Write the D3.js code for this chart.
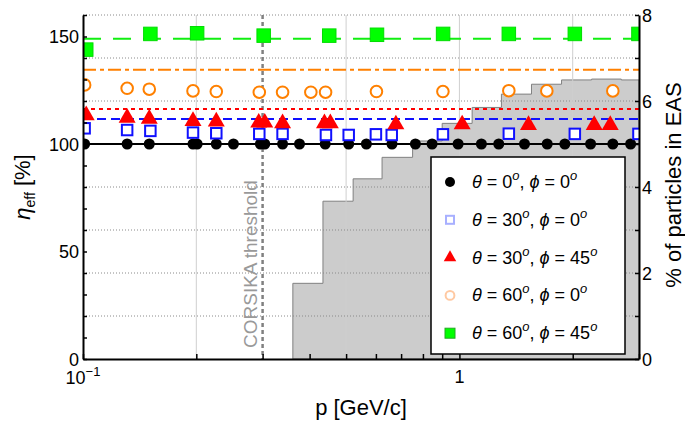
<!DOCTYPE html>
<html>
<head>
<meta charset="utf-8">
<script src="https://cdn.jsdelivr.net/npm/d3@7"></script>
<style>
  body { margin: 0; background: #fff; }
  svg { display: block; font-family: "Liberation Sans", Arial, Helvetica, sans-serif; }
</style>
</head>
<body>
<div id="chart"></div>
<script>
// histogram of particle momenta (% of particles in EAS), bin edges in GeV/c
const histEdges = [0.361, 0.434, 0.522, 0.623, 0.751, 0.900, 1.081, 1.293, 1.554, 1.868, 2.245, 2.692, 3.0];
const histPct   = [1.76, 3.67, 4.19, 4.69, 5.07, 5.48, 5.85, 6.16, 6.39, 6.49, 6.51, 6.49];

// theta = 0, phi = 0
const pT0P0   = [0.101, 0.131, 0.150, 0.196, 0.201, 0.226, 0.251, 0.296, 0.304, 0.339, 0.376, 0.440, 0.508,
                 0.566, 0.662, 0.764, 0.846, 0.992, 1.144, 1.272, 1.489, 1.711, 1.906, 2.231, 2.556, 2.850];
const effT0P0 = [100, 100, 100, 100, 100, 100, 100, 100, 100, 100, 100, 100, 100,
                 100, 100, 100, 100, 100, 100, 100, 100, 100, 100, 100, 100, 100];
// theta = 30, phi = 0
const pT30P0   = [0.101, 0.131, 0.151, 0.196, 0.226, 0.294, 0.339, 0.442, 0.508, 0.600, 0.661, 0.904, 1.353, 2.026, 2.99];
const effT30P0 = [107.3, 106.5, 106.1, 105.3, 105.0, 104.7, 104.7, 104.2, 104.2, 104.5, 104.2, 104.5, 104.8, 104.7, 104.7];
// theta = 30, phi = 45
const pT30P45   = [0.102, 0.131, 0.150, 0.196, 0.226, 0.293, 0.304, 0.339, 0.438, 0.454, 0.678, 1.017, 1.526, 2.281, 2.516];
const effT30P45 = [113.3, 112.2, 111.7, 110.7, 110.4, 109.9, 109.9, 109.6, 109.6, 109.6, 109.1, 109.1, 108.8, 108.8, 108.8];
// theta = 60, phi = 0
const pT60P0   = [0.101, 0.131, 0.150, 0.196, 0.226, 0.294, 0.339, 0.403, 0.441, 0.602, 0.904, 1.353, 1.707, 2.556];
const effT60P0 = [127.5, 125.9, 125.5, 124.7, 124.4, 124.1, 124.1, 124.1, 124.1, 124.4, 124.4, 124.8, 124.7, 124.7];
// theta = 60, phi = 45
const pT60P45   = [0.102, 0.151, 0.201, 0.302, 0.451, 0.604, 0.905, 1.353, 2.026, 2.99];
const effT60P45 = [143.9, 151.2, 151.5, 150.4, 150.4, 150.8, 151.2, 151.2, 151.2, 151.2];

// mean levels drawn as horizontal lines
const levels = [100, 111.6, 116.3, 134.5, 149.0];

const legendTheta = ["0", "30", "30", "60", "60"];
const legendPhi   = ["0", "0", "45", "0", "45"];

const xTicks = [0.1, 0.2, 0.3, 0.4, 0.5, 0.6, 0.7, 0.8, 0.9, 1, 2, 3];
const xGrid  = [0.2, 0.5, 1, 2];
const threshold = 0.3;

// layout
const W = 685, H = 423;
const margin = { top: 15, right: 46, bottom: 64, left: 83 };
const innerW = W - margin.left - margin.right;
const innerH = H - margin.top - margin.bottom;

const svg = d3.select("#chart").append("svg")
    .attr("width", W).attr("height", H);

svg.append("defs").append("clipPath").attr("id", "plotClip")
  .append("rect").attr("width", innerW).attr("height", innerH);

const g = svg.append("g").attr("transform", `translate(${margin.left},${margin.top})`);

const x = d3.scaleLog().domain([0.1, 3]).range([0, innerW]);
const y = d3.scaleLinear().domain([0, 160]).range([innerH, 0]);
const yR = d3.scaleLinear().domain([0, 8]).range([innerH, 0]);

// histogram (right axis)
const histData = histEdges.map((e, i) => ({ p: e, v: histPct[Math.min(i, histPct.length - 1)] }));
g.append("path")
  .datum(histData)
  .attr("clip-path", "url(#plotClip)")
  .attr("d", d3.area().curve(d3.curveStepAfter)
      .x(d => x(d.p)).y0(yR(0)).y1(d => yR(d.v)))
  .attr("fill", "#cccccc")
  .attr("stroke", "#808080")
  .attr("stroke-width", 1);

// grid
g.selectAll(".hgrid").data(d3.range(1, 9)).enter().append("line")
  .attr("x1", 0).attr("x2", innerW)
  .attr("y1", d => yR(d)).attr("y2", d => yR(d))
  .attr("stroke", "#8a8a8a").attr("stroke-width", 1).attr("stroke-dasharray", "1,2");
g.selectAll(".vgrid").data(xGrid).enter().append("line")
  .attr("x1", d => x(d)).attr("x2", d => x(d))
  .attr("y1", 0).attr("y2", innerH)
  .attr("stroke", "#cfcfcf").attr("stroke-width", 1);

// threshold
g.append("line")
  .attr("x1", x(threshold)).attr("x2", x(threshold))
  .attr("y1", 0).attr("y2", innerH)
  .attr("stroke", "#808080").attr("stroke-width", 2.5).attr("stroke-dasharray", "4,3");
g.append("text")
  .attr("transform", `translate(${x(threshold) - 6},${innerH - 11}) rotate(-90)`)
  .style("font-size", "19px").style("fill", "#999")
  .text("CORSIKA threshold");

// series styles
const series = [
  { p: pT0P0,   v: effT0P0,   color: "#000000", dash: null,       type: "dot" },
  { p: pT30P0,  v: effT30P0,  color: "#1010ff", dash: "9,5",      type: "osq" },
  { p: pT30P45, v: effT30P45, color: "#ff0000", dash: "4,4",      type: "tri" },
  { p: pT60P0,  v: effT60P0,  color: "#ff8000", dash: "13,4,4,4", type: "ocirc" },
  { p: pT60P45, v: effT60P45, color: "#11ee11", dash: "18,12",    type: "sq" }
];

const clipG = g.append("g").attr("clip-path", "url(#plotClip)");

// level lines
series.forEach((s, i) => {
  clipG.append("line")
    .attr("x1", 0).attr("x2", innerW)
    .attr("y1", y(levels[i])).attr("y2", y(levels[i]))
    .attr("stroke", s.color).attr("stroke-width", 2)
    .attr("stroke-dasharray", s.dash);
});

function drawMarker(sel, type, color, legend) {
  if (type === "dot") {
    sel.append("circle").attr("r", legend ? 5 : 5.5).attr("fill", "#000");
  } else if (type === "osq") {
    const s = legend ? 8 : 10.5;
    sel.append("rect").attr("x", -s / 2).attr("y", -s / 2).attr("width", s).attr("height", s)
      .attr("fill", "#fff").attr("stroke", legend ? "#a8b0ff" : color).attr("stroke-width", 2);
  } else if (type === "tri") {
    sel.append("path").attr("d", d3.symbol(d3.symbolTriangle, legend ? 68 : 125)())
      .attr("fill", color);
  } else if (type === "ocirc") {
    sel.append("circle").attr("r", legend ? 4.4 : 5.8)
      .attr("fill", "#fff").attr("stroke", legend ? "#ffc9a2" : color).attr("stroke-width", 2);
  } else if (type === "sq") {
    const s = legend ? 10 : 13.5;
    sel.append("rect").attr("x", -s / 2).attr("y", -s / 2).attr("width", s).attr("height", s)
      .attr("fill", "#00ff00").attr("stroke", legend ? "#22aa22" : "#00dd00").attr("stroke-width", 1);
  }
}

// markers
series.forEach(s => {
  s.p.forEach((p, j) => {
    const m = clipG.append("g").attr("transform", `translate(${x(p)},${y(s.v[j])})`);
    drawMarker(m, s.type, s.color, false);
  });
});

// axes
const axisStyle = sel => {
  sel.select(".domain").attr("stroke", "#000").attr("stroke-width", 2);
  sel.selectAll(".tick line").attr("stroke", "#000").attr("stroke-width", 1.5);
  sel.selectAll(".tick text").style("font-size", "18px").style("fill", "#000")
    .style("font-family", "'Liberation Sans', Arial, sans-serif");
};

g.append("g")
  .call(d3.axisLeft(y).tickValues(d3.range(0, 161, 10)).tickSize(-4).tickSizeOuter(0).tickPadding(4)
    .tickFormat(d => d % 50 === 0 ? d : ""))
  .call(axisStyle)
  .call(a => a.selectAll(".tick text").attr("dy", "0.34em"));

g.append("g")
  .attr("transform", `translate(${innerW},0)`)
  .call(d3.axisRight(yR).tickValues(d3.range(0, 9)).tickSize(-4).tickSizeOuter(0).tickPadding(3)
    .tickFormat(d => d % 2 === 0 ? d : ""))
  .call(axisStyle)
  .call(a => a.selectAll(".tick text").attr("dy", "0.36em"));

g.append("g")
  .attr("transform", `translate(0,${innerH})`)
  .call(d3.axisBottom(x).tickValues(xTicks).tickSize(-5).tickSizeOuter(0).tickFormat(""))
  .call(axisStyle);

// x tick labels
const lab01 = g.append("text").attr("x", x(0.1)).attr("y", innerH + 25)
  .attr("text-anchor", "middle").style("font-size", "18px");
lab01.append("tspan").text("10");
lab01.append("tspan").attr("dy", -8).style("font-size", "13px").text("\u22121");
g.append("text").attr("x", x(1)).attr("y", innerH + 24)
  .attr("text-anchor", "middle").style("font-size", "18px").text("1");

// axis titles
svg.append("text")
  .attr("x", margin.left + innerW / 2).attr("y", 415)
  .attr("text-anchor", "middle").style("font-size", "22px")
  .text("p [GeV/c]");

const yTitle = svg.append("text")
  .attr("transform", `translate(30,${margin.top + innerH / 2}) rotate(-90)`)
  .attr("text-anchor", "middle").style("font-size", "22px");
yTitle.append("tspan").style("font-style", "italic").text("\u03b7");
yTitle.append("tspan").attr("dy", 5).style("font-size", "14px").text("eff");
yTitle.append("tspan").attr("dy", -5).text(" [%]");

svg.append("text")
  .attr("transform", `translate(681,${margin.top + innerH / 2 - 2}) rotate(-90)`)
  .attr("text-anchor", "middle").style("font-size", "22px")
  .text("% of particles in EAS");

// legend
const lg = svg.append("g").attr("transform", "translate(431,157)");
lg.append("rect").attr("width", 194).attr("height", 197)
  .attr("fill", "#fff").attr("stroke", "#000").attr("stroke-width", 1.5);

series.forEach((s, i) => {
  const cy = 25 + i * 37.8;
  const m = lg.append("g").attr("transform", `translate(19,${cy})`);
  drawMarker(m, s.type, s.color, true);
  const t = lg.append("text").attr("x", 41).attr("y", cy + 6).style("font-size", "18px");
  t.append("tspan").style("font-style", "italic").text("\u03b8");
  t.append("tspan").text(" = " + legendTheta[i]);
  t.append("tspan").attr("dy", -8).style("font-size", "13px").style("font-style", "italic").text("o");
  t.append("tspan").attr("dy", 8).text(", ");
  t.append("tspan").style("font-style", "italic").text("\u03d5");
  t.append("tspan").text(" = " + legendPhi[i]);
  t.append("tspan").attr("dy", -8).style("font-size", "13px").style("font-style", "italic").text("o");
});
</script>
</body>
</html>
